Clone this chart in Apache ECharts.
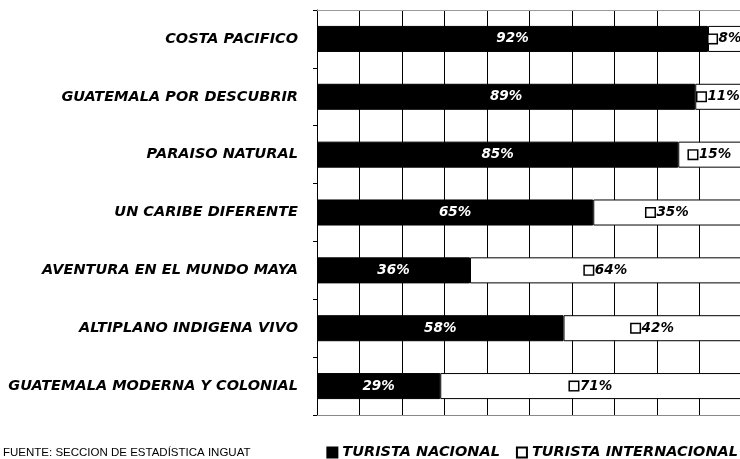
<!DOCTYPE html>
<html>
<head>
<meta charset="utf-8">
<script src="https://cdn.jsdelivr.net/npm/echarts@6/dist/echarts.min.js"></script>
<style>
  html, body { margin: 0; padding: 0; background: #fff; }
  #container { width: 740px; height: 459px; }
</style>
</head>
<body>
<div id="container"></div>
<script>
var categories = [
	'COSTA PACIFICO',
	'GUATEMALA POR DESCUBRIR',
	'PARAISO NATURAL',
	'UN CARIBE DIFERENTE',
	'AVENTURA EN EL MUNDO MAYA',
	'ALTIPLANO INDIGENA VIVO',
	'GUATEMALA MODERNA Y COLONIAL'
];
var nacional = [92, 89, 85, 65, 36, 58, 29];
var internacional = [8, 11, 15, 35, 64, 42, 71];

var labelFont = 'DejaVu Sans';

var myChart = echarts.init(document.getElementById('container'));

var option = {
	animation: false,
	backgroundColor: '#fff',
	grid: {
		left: 317,
		top: 10,
		width: 425,
		height: 405,
		outerBoundsMode: 'none'
	},
	legend: {
		right: 2,
		top: 445,
		padding: 0,
		itemWidth: 10,
		itemHeight: 10,
		itemGap: 16,
		data: [
			{ name: 'TURISTA NACIONAL', icon: 'rect' },
			{ name: 'TURISTA INTERNACIONAL', icon: 'rect' }
		],
		textStyle: {
			fontFamily: labelFont,
			fontSize: 14.5,
			fontWeight: 'bold',
			fontStyle: 'italic',
			color: '#000'
		}
	},
	graphic: [{
		type: 'text',
		left: 3,
		top: 447,
		style: {
			text: 'FUENTE: SECCION DE ESTADÍSTICA INGUAT',
			fontFamily: 'Liberation Sans',
			fontSize: 11.5,
			fill: '#000'
		}
	}],
	xAxis: [{
		type: 'value',
		min: 0,
		max: 100,
		interval: 10,
		axisLabel: { show: false },
		axisTick: { show: false },
		axisLine: { show: true, lineStyle: { color: '#888', width: 1 } },
		splitLine: { show: true, lineStyle: { color: '#000', width: 1 } }
	}, {
		type: 'value',
		position: 'top',
		min: 0,
		max: 100,
		interval: 10,
		axisLabel: { show: false },
		axisTick: { show: false },
		axisLine: { show: true, lineStyle: { color: '#999', width: 1 } },
		splitLine: { show: false }
	}],
	yAxis: {
		type: 'category',
		inverse: true,
		data: categories,
		axisLine: { show: true, lineStyle: { color: '#000', width: 1 } },
		axisTick: { show: true, length: 4, lineStyle: { color: '#000' } },
		axisLabel: {
			margin: 19,
			fontFamily: labelFont,
			fontSize: 14.5,
			fontWeight: 'bold',
			fontStyle: 'italic',
			color: '#000'
		}
	},
	series: [{
		name: 'TURISTA NACIONAL',
		type: 'bar',
		stack: 'total',
		barWidth: '45%',
		data: nacional,
		itemStyle: { color: '#000', borderColor: '#000', borderWidth: 1 },
		label: {
			show: true,
			position: 'inside',
			formatter: '{c}%',
			fontFamily: labelFont,
			fontSize: 13.5,
			fontWeight: 'bold',
			fontStyle: 'italic',
			color: '#fff'
		}
	}, {
		name: 'TURISTA INTERNACIONAL',
		type: 'bar',
		stack: 'total',
		barWidth: '45%',
		data: internacional,
		itemStyle: { color: '#fff', borderColor: '#000', borderWidth: 1 },
		label: {
			show: true,
			position: 'inside',
			formatter: '{box|}{v|{c}%}',
			rich: {
				box: {
					width: 8,
					height: 8,
					backgroundColor: '#fff',
					borderColor: '#000',
					borderWidth: 1.5
				},
				v: {
					fontFamily: labelFont,
					fontSize: 13.5,
					fontWeight: 'bold',
					fontStyle: 'italic',
					color: '#000',
					padding: [0, 0, 0, 2]
				}
			}
		}
	}]
};

myChart.setOption(option);
</script>
</body>
</html>
